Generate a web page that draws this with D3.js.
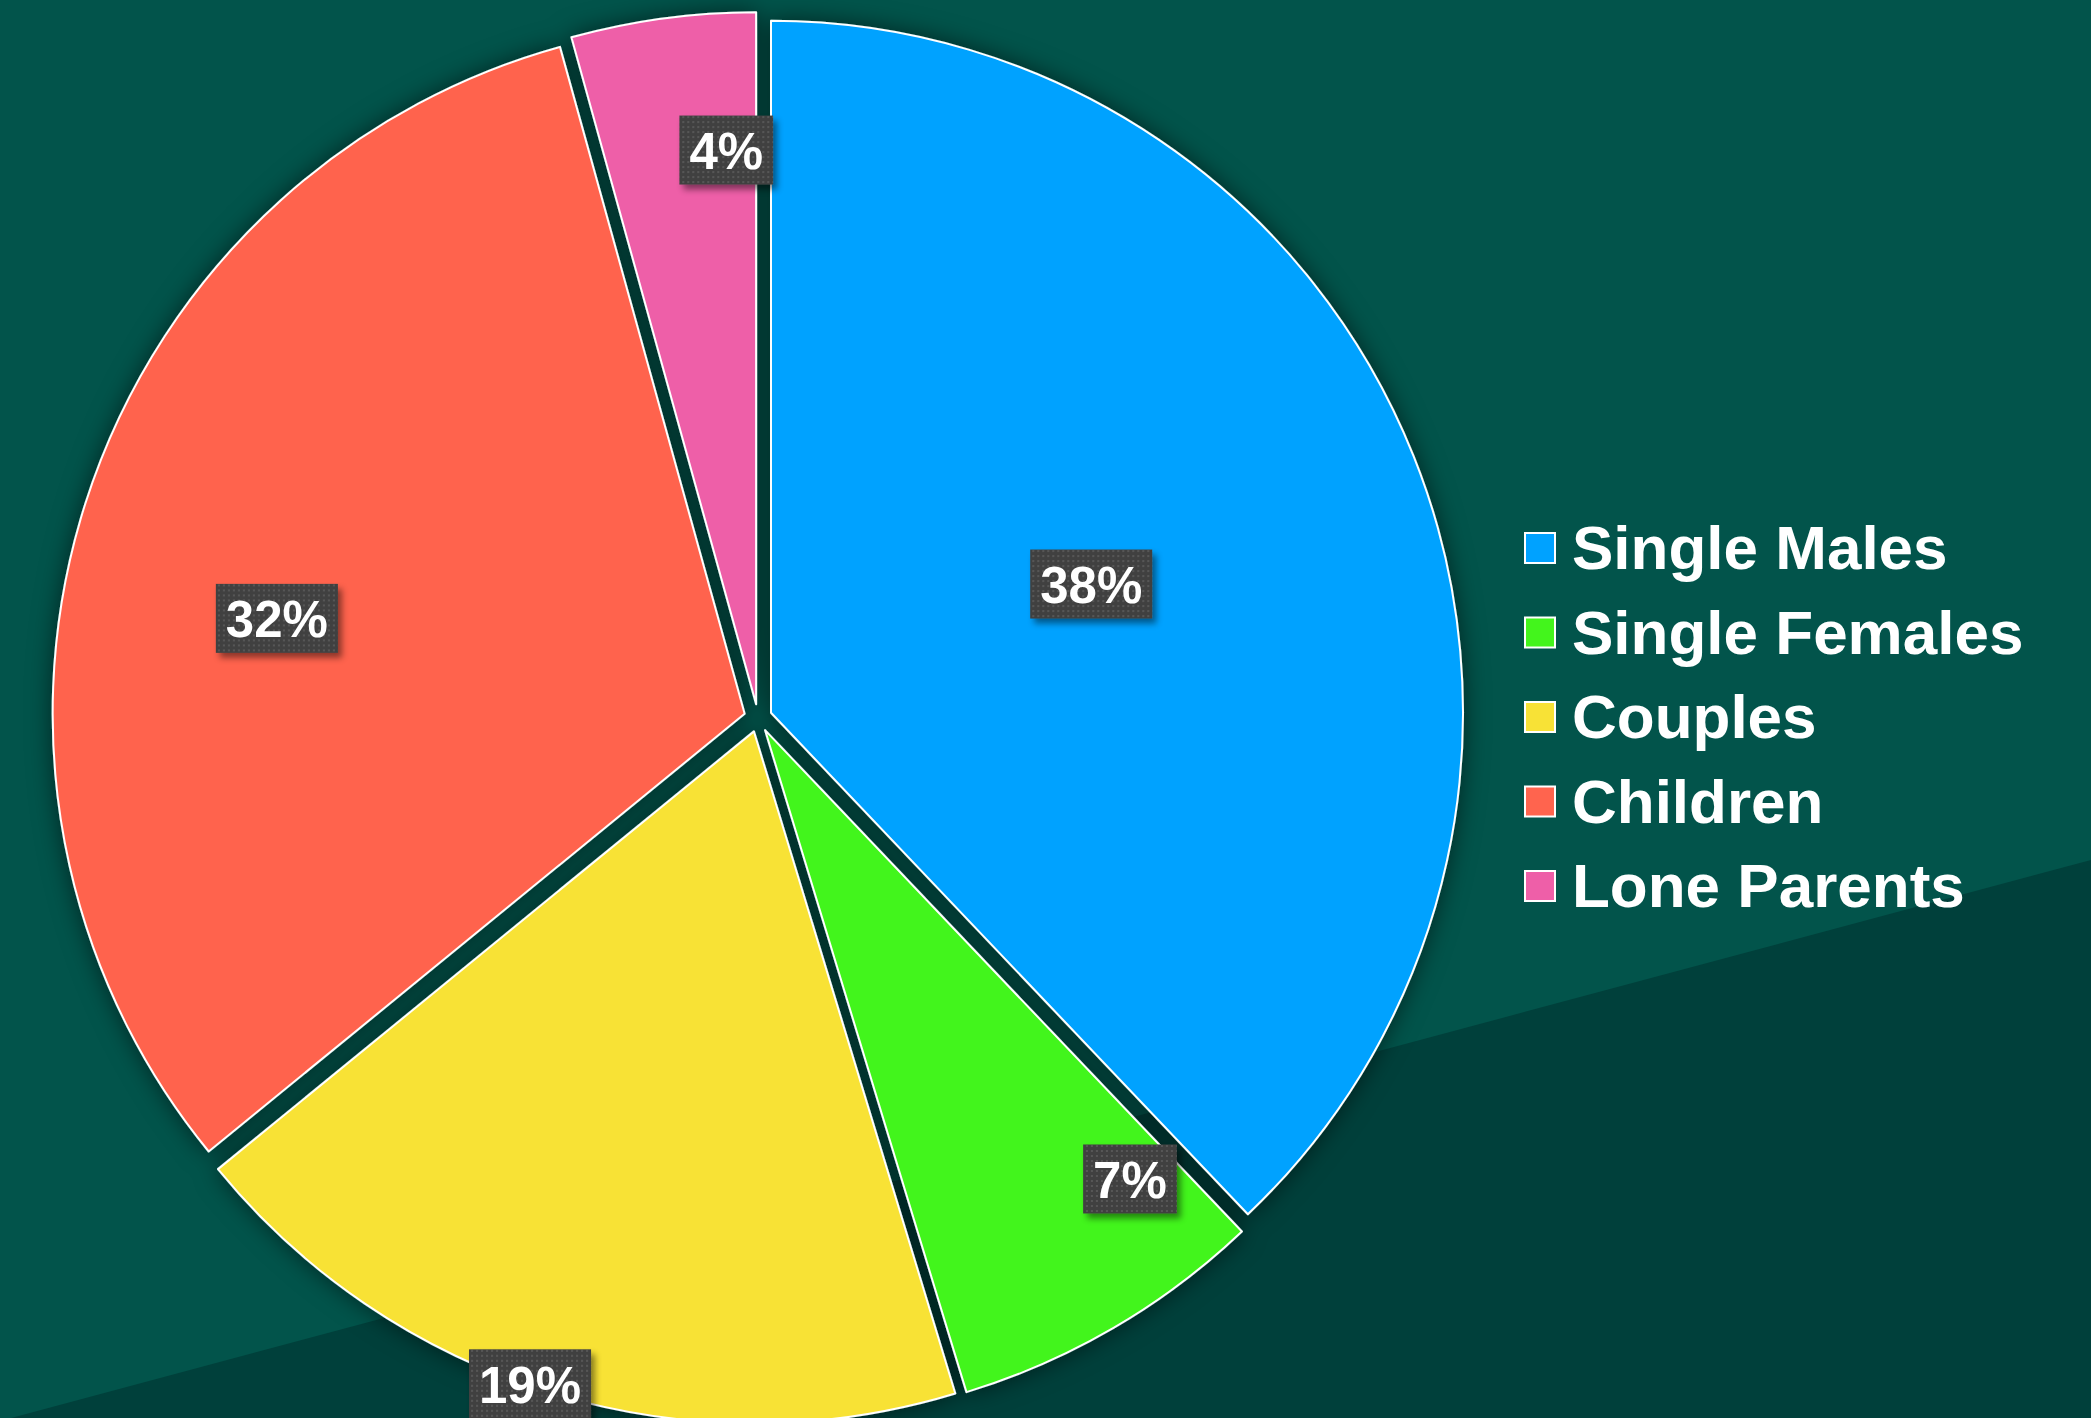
<!DOCTYPE html>
<html>
<head>
<meta charset="utf-8">
<script src="https://cdn.jsdelivr.net/npm/d3@7"></script>
<style>
  html, body { margin: 0; padding: 0; background: #02544b; overflow: hidden; }
  svg { display: block; }
</style>
</head>
<body>
<div id="chart"></div>
<script>
// data (shares in percent; labels show them rounded)
const categories = ["Single Males", "Single Females", "Couples", "Children", "Lone Parents"];
const values = [37.9, 7.4, 18.8, 31.6, 4.3];
const colors = ["#00a2ff", "#43f51c", "#f8e236", "#ff644e", "#ee5fa8"];

// where Excel put each data label (angle in degrees from 12 o'clock, fraction of radius)
const labelAngles = [68.1, 141.1, 198.9, 281.7, 356.8];
const labelRadii = [0.519, 0.856, 1.017, 0.71, 0.822];

const width = 2091, height = 1418;
const cx = 758, cy = 718;
const radius = 692;
const explode = 14;

const svg = d3.select("#chart").append("svg")
    .attr("width", width)
    .attr("height", height);

const defs = svg.append("defs");

// soft shadow behind the pie
const shadow = defs.append("filter")
    .attr("id", "pieShadow")
    .attr("x", "-20%").attr("y", "-20%")
    .attr("width", "140%").attr("height", "140%");
shadow.append("feDropShadow")
    .attr("dx", 0).attr("dy", 0)
    .attr("stdDeviation", 12)
    .attr("flood-color", "#000")
    .attr("flood-opacity", 0.55);

// shadow for label boxes
const boxShadow = defs.append("filter")
    .attr("id", "boxShadow")
    .attr("x", "-20%").attr("y", "-20%")
    .attr("width", "150%").attr("height", "160%");
boxShadow.append("feDropShadow")
    .attr("dx", 4).attr("dy", 5)
    .attr("stdDeviation", 3)
    .attr("flood-color", "#000")
    .attr("flood-opacity", 0.45);

// dotted texture of the label boxes
const dots = defs.append("pattern")
    .attr("id", "dots")
    .attr("width", 5).attr("height", 5)
    .attr("patternUnits", "userSpaceOnUse");
dots.append("rect").attr("width", 5).attr("height", 5).attr("fill", "#414141");
dots.append("rect").attr("x", 1).attr("y", 1).attr("width", 2).attr("height", 2).attr("fill", "#565656");

// background
svg.append("rect")
    .attr("width", width).attr("height", height)
    .attr("fill", "#02544b");
svg.append("path")
    .attr("d", `M0,1421 L${width},860 L${width},${height} L0,${height} Z`)
    .attr("fill", "#00403b");

// pie
const pie = d3.pie().sort(null).value(d => d)(values);
const arc = d3.arc().innerRadius(0).outerRadius(radius);

const g = svg.append("g")
    .attr("transform", `translate(${cx},${cy})`);

const slices = g.append("g").attr("filter", "url(#pieShadow)");
slices.selectAll("path")
    .data(pie)
    .join("path")
    .attr("d", arc)
    .attr("transform", d => {
        const mid = (d.startAngle + d.endAngle) / 2;
        return `translate(${Math.sin(mid) * explode},${-Math.cos(mid) * explode})`;
    })
    .attr("fill", (d, i) => colors[i])
    .attr("stroke", "#ffffff")
    .attr("stroke-width", 2)
    .attr("stroke-linejoin", "round");

// data labels
const labels = g.append("g")
    .selectAll("g")
    .data(pie)
    .join("g")
    .attr("transform", (d, i) => {
        const a = labelAngles[i] * Math.PI / 180;
        const r = labelRadii[i] * radius;
        return `translate(${Math.sin(a) * r},${-Math.cos(a) * r})`;
    });

labels.each(function(d, i) {
    const sel = d3.select(this);
    const txt = sel.append("text")
        .attr("text-anchor", "middle")
        .attr("y", 19)
        .style("font-family", "'Liberation Sans', Arial, sans-serif")
        .style("font-weight", "bold")
        .style("font-size", "51px")
        .style("fill", "#ffffff")
        .text(Math.round(values[i]) + "%");
    const w = txt.node().getComputedTextLength() + 20;
    sel.insert("rect", "text")
        .attr("x", -w / 2)
        .attr("y", -34.5)
        .attr("width", w)
        .attr("height", 69)
        .attr("fill", "url(#dots)")
        .attr("filter", "url(#boxShadow)");
});

// legend
const legend = svg.append("g")
    .attr("transform", "translate(1524,569)");

const items = legend.selectAll("g")
    .data(categories)
    .join("g")
    .attr("transform", (d, i) => `translate(0,${i * 84.5})`);

items.append("rect")
    .attr("x", 1)
    .attr("y", -36)
    .attr("width", 30)
    .attr("height", 30)
    .attr("fill", (d, i) => colors[i])
    .attr("stroke", "#ffffff")
    .attr("stroke-width", 2);

items.append("text")
    .attr("x", 48)
    .attr("y", 0)
    .style("font-family", "'Liberation Sans', Arial, sans-serif")
    .style("font-weight", "bold")
    .style("font-size", "62px")
    .style("fill", "#ffffff")
    .text(d => d);
</script>
</body>
</html>
